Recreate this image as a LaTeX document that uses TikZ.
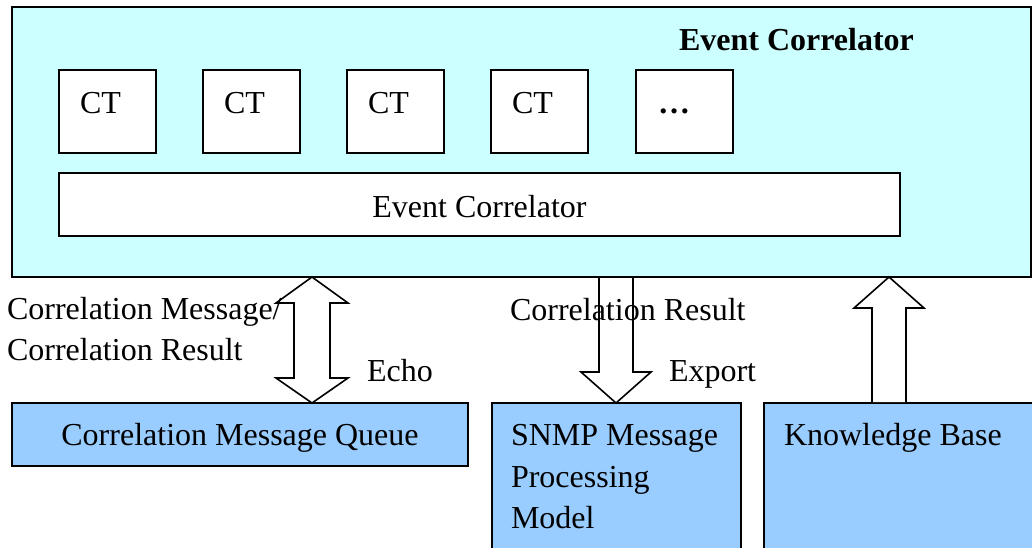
\documentclass[tikz,border=0pt]{standalone}
\usepackage{fontspec}
\setmainfont{Liberation Serif}
\usetikzlibrary{calc}
\definecolor{cyanfill}{HTML}{CCFFFF}
\definecolor{bluefill}{HTML}{99CCFF}
\begin{document}
\begin{tikzpicture}[x=1pt,y=-1pt,
  every node/.style={inner sep=0pt,outer sep=0pt},
  txt/.style={anchor=base west,font=\fontsize{32}{38}\selectfont},
  boxline/.style={draw=black,line width=1.8pt},
  ctbox/.style={boxline,fill=white,anchor=north west,minimum width=97pt,minimum height=83pt},
  lowbox/.style={boxline,fill=bluefill,anchor=north west},
  hollow/.style={draw=black,line width=1.6pt,fill=white,line join=miter}]
\useasboundingbox (0,0) rectangle (1032,547);
\begin{scope}
\clip (0,0) rectangle (1032,547);
% outer container
\node[boxline,fill=cyanfill,anchor=north west,minimum width=1019pt,minimum height=270pt] (outer) at (12,7) {};
\node[txt,font=\fontsize{32}{38}\selectfont\bfseries] (title) at (679,50) {Event Correlator};
% CT boxes
\foreach \i/\x in {1/59,2/203,3/347,4/491}{
  \node[ctbox] (ct\i) at (\x,70) {};
  \node[txt] (ctt\i) at (\x+21,113) {CT};
}
\node[ctbox] (ct5) at (636,70) {};
\node[txt,font=\fontsize{32}{38}\selectfont\bfseries] (ctt5) at (658,113) {…};
% inner bar
\node[boxline,fill=white,anchor=north west,minimum width=841pt,minimum height=63pt] (bar) at (59,173) {};
\node[txt,anchor=base] (bart) at (bar.center |- 0,217) {Event Correlator};
% lower boxes
\node[lowbox,minimum width=456pt,minimum height=63pt] (queue) at (12,403) {};
\node[txt,anchor=base] (queuet) at (240,445) {Correlation Message Queue};
\node[lowbox,minimum width=249pt,minimum height=200pt] (snmp) at (492,403) {};
\node[txt] (snmp1) at (511,445) {SNMP Message};
\node[txt] (snmp2) at (511,487) {Processing};
\node[txt] (snmp3) at (511,528) {Model};
\node[lowbox,minimum width=300pt,minimum height=200pt] (kb) at (764,403) {};
\node[txt] (kbt) at (784,445) {Knowledge Base};
% arrow positions
\coordinate (xa) at (312,0);
\coordinate (xb) at (616,0);
\coordinate (xc) at (889,0);
\coordinate (ta) at (xa |- outer.south);
\coordinate (ba) at (xa |- queue.north);
\coordinate (tb) at ($(xb |- outer.south)+(0,1)$);
\coordinate (bb) at (xb |- snmp.north);
\coordinate (tc) at (xc |- outer.south);
\coordinate (bc) at ($(xc |- kb.north)+(0,-1)$);
% double arrow (queue <-> correlator)
\draw[hollow] (ta) -- ($(ta)+(36,26)$) -- ($(ta)+(18,26)$) -- ($(ba)+(18,-25)$) -- ($(ba)+(36,-25)$)
  -- (ba) -- ($(ba)+(-36,-25)$) -- ($(ba)+(-18,-25)$) -- ($(ta)+(-18,26)$) -- ($(ta)+(-36,26)$) -- cycle;
% down arrow (correlator -> snmp)
\draw[hollow] ($(tb)+(-17,0)$) -- ($(bb)+(-17,-31)$) -- ($(bb)+(-35,-31)$) -- (bb)
  -- ($(bb)+(35,-31)$) -- ($(bb)+(17,-31)$) -- ($(tb)+(17,0)$);
% up arrow (kb -> correlator)
\draw[hollow] ($(bc)+(-17,0)$) -- ($(tc)+(-17,31)$) -- ($(tc)+(-35,31)$) -- (tc)
  -- ($(tc)+(35,31)$) -- ($(tc)+(17,31)$) -- ($(bc)+(17,0)$);
% labels
\node[txt] (l1) at (7,319) {Correlation Message/};
\node[txt] (l2) at (7,360) {Correlation Result};
\node[txt] (echo) at (367,381) {Echo};
\node[txt] (l3) at (510,320) {Correlation Result};
\node[txt] (export) at (669,381) {Export};
\end{scope}
\end{tikzpicture}
\end{document}
